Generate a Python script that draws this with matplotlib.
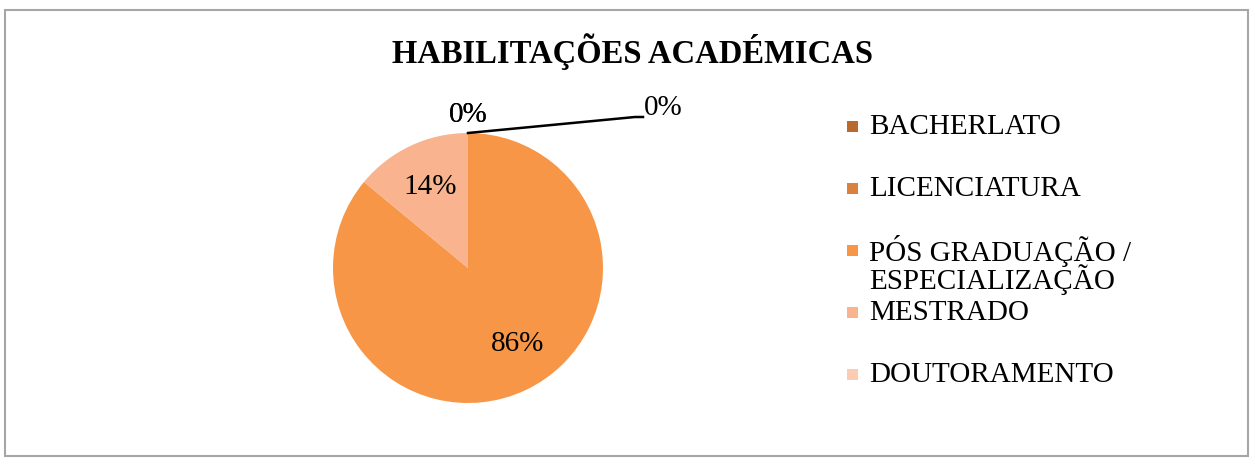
import numpy as np
import matplotlib.pyplot as plt
from matplotlib.patches import Rectangle

plt.rcParams['font.family'] = ['Liberation Serif', 'DejaVu Serif']

title = 'HABILITAÇÕES ACADÉMICAS'
categories = ['BACHERLATO', 'LICENCIATURA', 'PÓS GRADUAÇÃO /\nESPECIALIZAÇÃO',
              'MESTRADO', 'DOUTORAMENTO']
values = [0, 0, 86, 14, 0]
colors = ['#B96A2E', '#DA823D', '#F79646', '#F9B48F', '#FBCBB2']

W, H = 1255, 465
fig = plt.figure(figsize=(W / 100, H / 100), dpi=100)
ax = fig.add_axes([0, 0, 1, 1])

# pie in pixel-like data coords (y up)
cx, cy, r = 468, H - 268, 135
wedges, texts, autotexts = ax.pie(
    values, colors=colors, startangle=90, counterclock=False,
    center=(cx, cy), radius=r,
    autopct=lambda p: '%.0f%%' % p if p > 0.5 else '',
    pctdistance=0.66, textprops={'fontsize': 21, 'color': 'black'},
    wedgeprops={'linewidth': 0})

# excel puts the big slice label a bit further round
big = int(np.argmax(values))
w = wedges[big]
a = np.deg2rad((w.theta1 + w.theta2) / 2 + 8)
autotexts[big].set_position((cx + 0.67 * r * np.cos(a), cy + 0.67 * r * np.sin(a)))

ax.set_xlim(0, W)
ax.set_ylim(0, H)
ax.axis('off')

# labels for the empty slices (drawn at the top of the pie)
zero_idx = [i for i, v in enumerate(values) if v == 0]
for i in zero_idx[:-1]:
    w = wedges[i]
    ang = np.deg2rad(w.theta1)
    ax.text(cx + 1.13 * r * np.cos(ang), cy + 1.13 * r * np.sin(ang), '0%',
            fontsize=21, ha='center', va='center')
last = wedges[zero_idx[-1]]
ang = np.deg2rad(last.theta1)
px, py = cx + r * np.cos(ang), cy + r * np.sin(ang)
ax.plot([px, px + 167, px + 175], [py, py + 16, py + 16], color='black', lw=1.8)
ax.text(px + 176, py + 25, '0%', fontsize=21, ha='left', va='center')

ax.text(W / 2 + 5, H - 52, title, fontsize=23.5, fontweight='bold',
        ha='center', va='center')

# legend
ly0, lstep = 127, 62
for k, (lab, col) in enumerate(zip(categories, colors)):
    yc = H - (ly0 + k * lstep)
    ax.add_patch(Rectangle((847, yc - 5.5), 11, 11, color=col, lw=0))
    for j, line in enumerate(lab.split('\n')):
        ax.text(869, yc - j * 29, line, fontsize=21, ha='left', va='center')

# chart border
ax.add_patch(Rectangle((5, H - 456), 1243, 446, fill=False,
                       edgecolor='#A6A6A6', lw=1.5))

fig.savefig('out.png', dpi=100)
